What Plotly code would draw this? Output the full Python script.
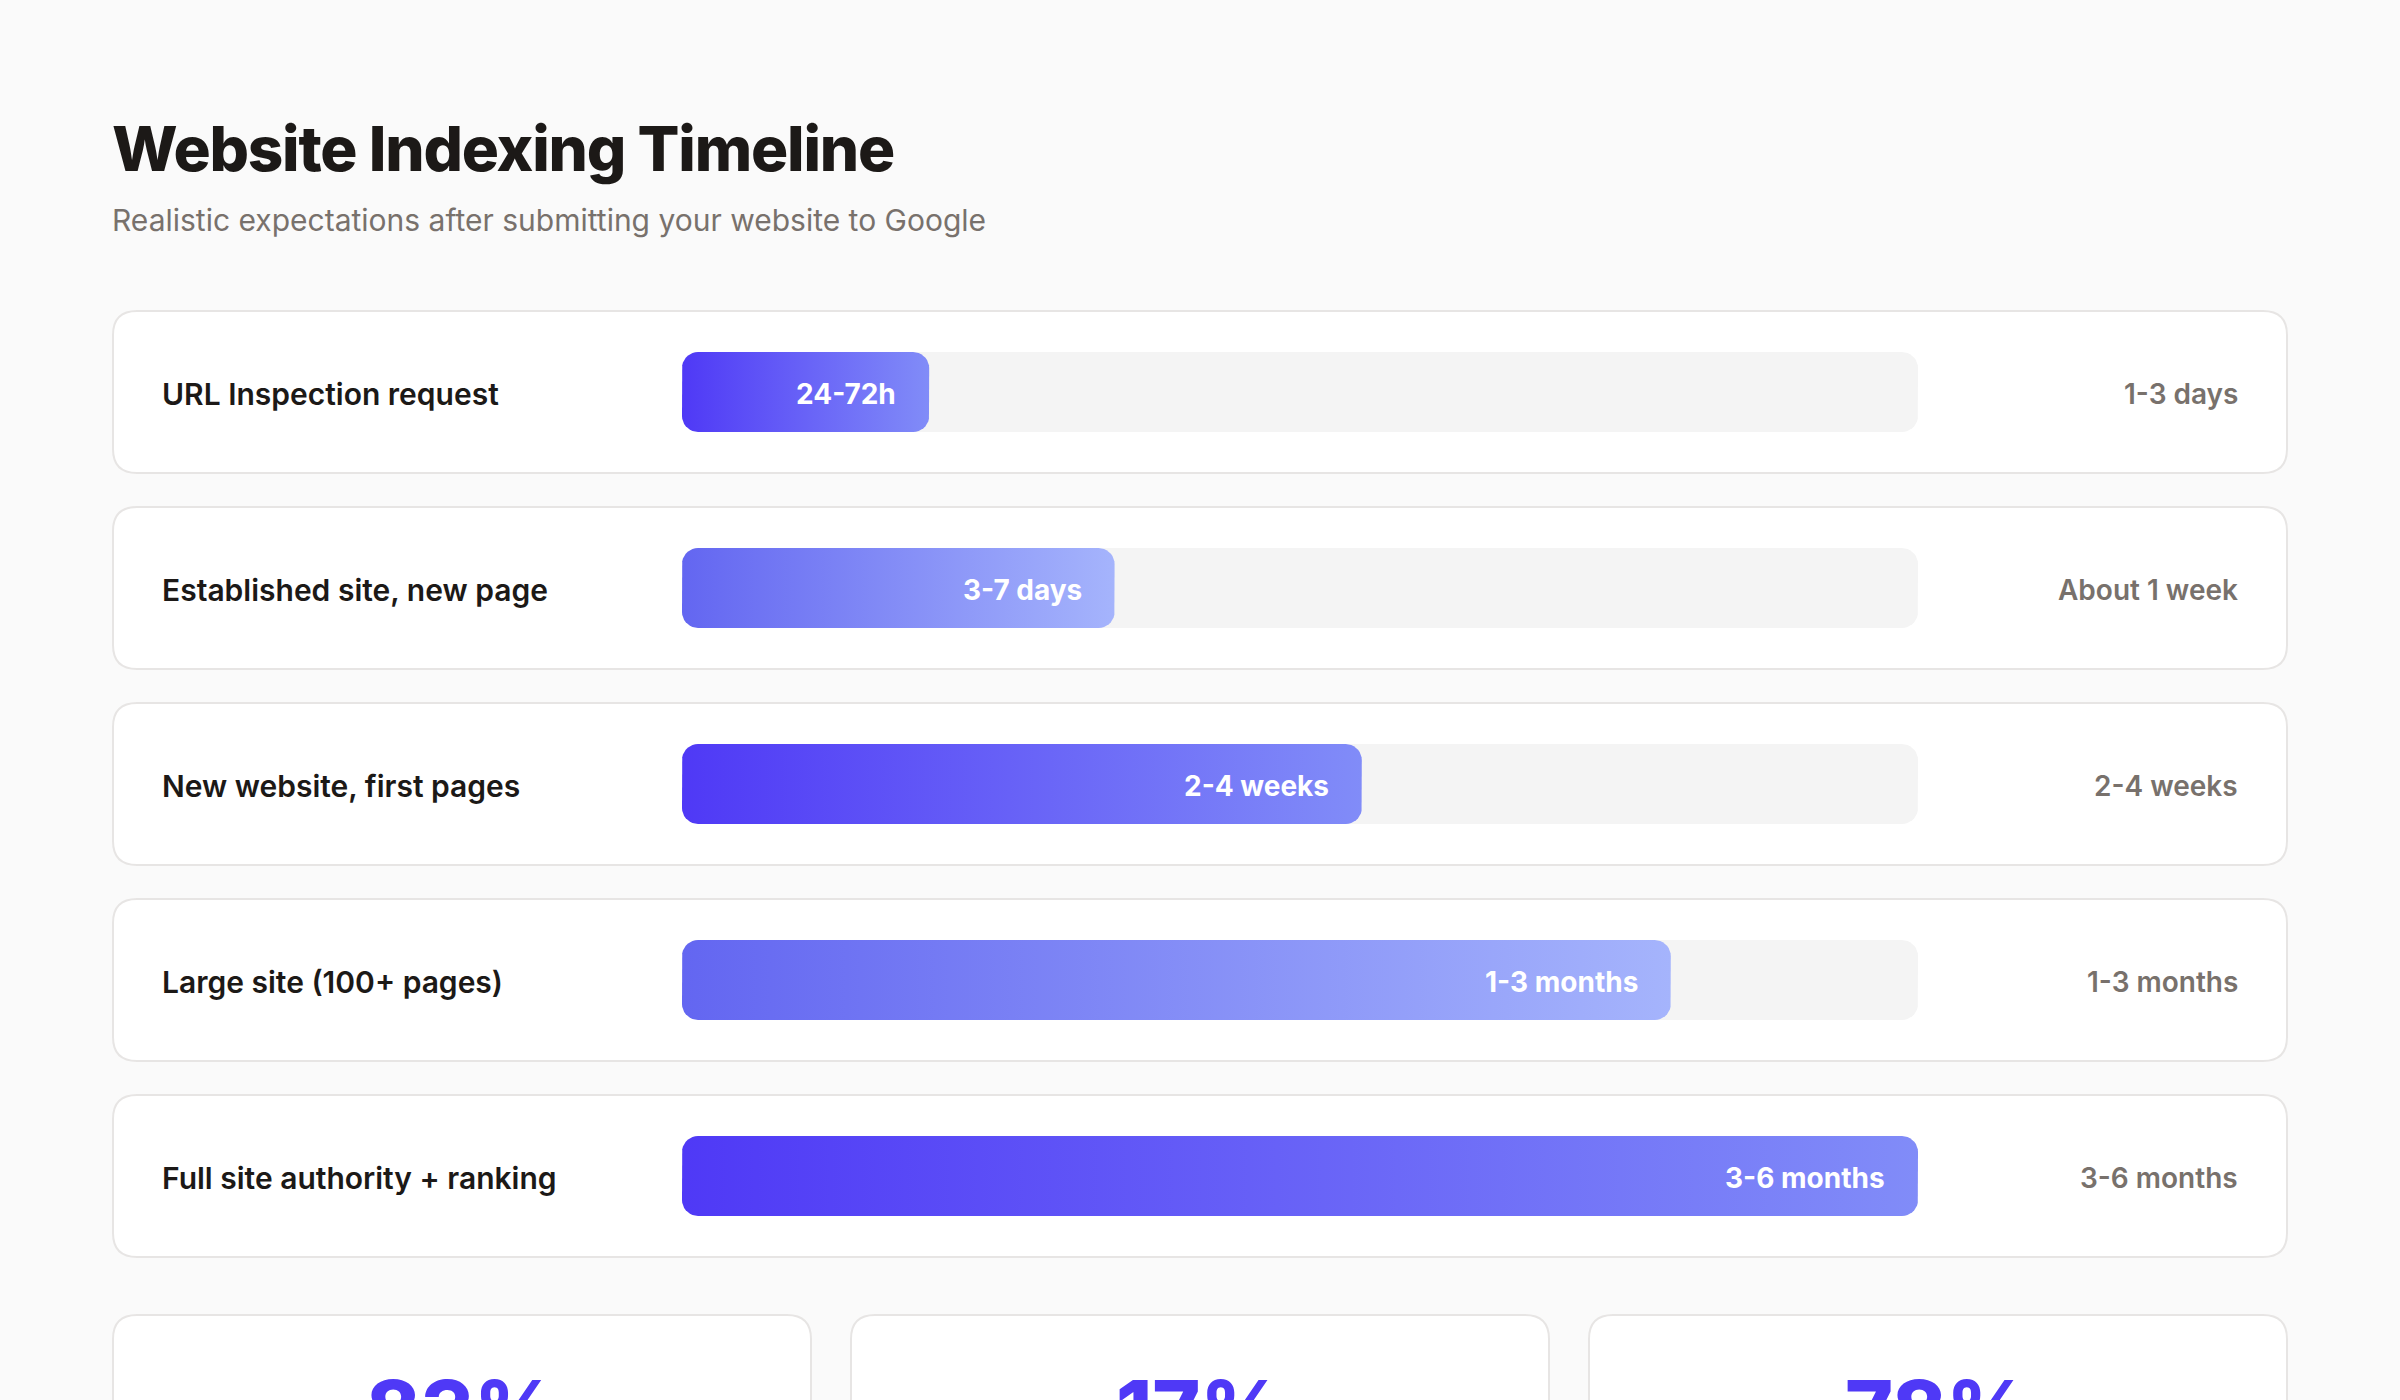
import numpy as np
import plotly.graph_objects as go

# ---------------- data ----------------
stages = ["URL Inspection request", "Established site, new page", "New website, first pages",
          "Large site (100+ pages)", "Full site authority + ranking"]
progress = [20, 35, 55, 80, 100]
bar_labels = ["24-72h", "3-7 days", "2-4 weeks", "1-3 months", "3-6 months"]
durations = ["1-3 days", "About 1 week", "2-4 weeks", "1-3 months", "3-6 months"]
stat_values = ["83%", "17%", "78%"]

# ---------------- layout constants (pixels) ----------------
W, H = 2400, 1400
TRACK_X0, TRACK_X1 = 682, 1918
ROW0_Y, ROW_PITCH = 392, 196
CARD_X0, CARD_X1 = 113, 2287
CARD_HALF = 81
CARD_R = 24
BAR_HALF = 40
BAR_R = 16
FONT = "Inter, Noto Sans, sans-serif"

x_per_px = 100.0 / (TRACK_X1 - TRACK_X0)
y_per_px = 1.0 / ROW_PITCH
y_range = [(H - ROW0_Y) / ROW_PITCH, -ROW0_Y / ROW_PITCH]

dark_grad = [[0, "#4f39f6"], [1, "#818cf8"]]
light_grad = [[0, "#6366f1"], [1, "#a5b4fc"]]


def rounded_rect(x0, x1, yc, half_h, rx, ry, n=10):
    """Polygon of a rounded rectangle in data units."""
    y0, y1 = yc - half_h, yc + half_h
    xs, ys = [], []
    corners = [
        (x1 - rx, y0 + ry, -np.pi / 2, 0),
        (x1 - rx, y1 - ry, 0, np.pi / 2),
        (x0 + rx, y1 - ry, np.pi / 2, np.pi),
        (x0 + rx, y0 + ry, np.pi, 1.5 * np.pi),
    ]
    for cx, cy, a0, a1 in corners:
        t = np.linspace(a0, a1, n)
        xs.extend(cx + rx * np.cos(t))
        ys.extend(cy + ry * np.sin(t))
    xs.append(xs[0])
    ys.append(ys[0])
    return xs, ys


def rr_path(x0, x1, y0, y1, rx, ry):
    return (f"M {x0+rx},{y0} L {x1-rx},{y0} Q {x1},{y0} {x1},{y0+ry} "
            f"L {x1},{y1-ry} Q {x1},{y1} {x1-rx},{y1} L {x0+rx},{y1} "
            f"Q {x0},{y1} {x0},{y1-ry} L {x0},{y0+ry} Q {x0},{y0} {x0+rx},{y0} Z")


fig = go.Figure()
shapes = []
annotations = []

rx_bar = BAR_R * x_per_px
ry_bar = BAR_R * y_per_px
half_bar = BAR_HALF * y_per_px

for i, (name, val, blab, dur) in enumerate(zip(stages, progress, bar_labels, durations)):
    # card background
    shapes.append(dict(
        type="path", xref="paper", yref="y", layer="below",
        path=rr_path(CARD_X0 / W, CARD_X1 / W, i - CARD_HALF * y_per_px, i + CARD_HALF * y_per_px,
                     CARD_R / W, CARD_R * y_per_px),
        fillcolor="#ffffff", line=dict(color="#e7e5e4", width=2)))
    # track
    tx, ty = rounded_rect(0, 100, i, half_bar, rx_bar, ry_bar)
    fig.add_trace(go.Scatter(x=tx, y=ty, mode="lines", fill="toself", fillcolor="#f4f4f4",
                             line=dict(width=0), hoverinfo="skip", showlegend=False))
    # bar
    bx, by = rounded_rect(0, val, i, half_bar, rx_bar, ry_bar)
    fig.add_trace(go.Scatter(
        x=bx, y=by, mode="lines", fill="toself", line=dict(width=0),
        fillgradient=dict(type="horizontal", colorscale=dark_grad if i % 2 == 0 else light_grad,
                          start=0, stop=val),
        hoverinfo="skip", showlegend=False))
    # bar label
    annotations.append(dict(x=val, y=i, xref="x", yref="y", text=f"<b>{blab}</b>",
                            xanchor="right", yanchor="middle", xshift=-31, yshift=-2,
                            showarrow=False,
                            font=dict(family=FONT, size=28, color="#ffffff", weight=700)))
    # stage name
    annotations.append(dict(x=160 / W, y=i, xref="paper", yref="y", text=name,
                            xanchor="left", yanchor="middle", yshift=-2, showarrow=False,
                            font=dict(family=FONT, size=30, color="#1c1917", weight=600)))
    # duration
    annotations.append(dict(x=2240 / W, y=i, xref="paper", yref="y", text=dur,
                            xanchor="right", yanchor="middle", yshift=-2, showarrow=False,
                            font=dict(family=FONT, size=28, color="#78716c", weight=600)))

# bottom stat cards
stat_x = [(113, 811), (851, 1549), (1589, 2287)]
for (sx0, sx1), sv in zip(stat_x, stat_values):
    shapes.append(dict(
        type="path", xref="paper", yref="paper", layer="below",
        path=rr_path(sx0 / W, sx1 / W, 1 - 1315 / H, 1 - 1700 / H, CARD_R / W, -CARD_R / H),
        fillcolor="#ffffff", line=dict(color="#e7e5e4", width=2)))
    annotations.append(dict(x=(sx0 + sx1) / 2 / W, y=1 - 1410 / H, xref="paper", yref="paper",
                            text=sv, xanchor="center", yanchor="middle", showarrow=False,
                            font=dict(family=FONT, size=82, color="#4f39f6", weight=800)))

# title + subtitle
annotations.append(dict(x=110 / W, y=1 - 148 / H, xref="paper", yref="paper",
                        text='<span style="letter-spacing:-1.2px">Website Indexing Timeline</span>',
                        xanchor="left", yanchor="middle", showarrow=False,
                        font=dict(family=FONT, size=62, color="#1c1917", weight=800)))
annotations.append(dict(x=110 / W, y=1 - 220 / H, xref="paper", yref="paper",
                        text="Realistic expectations after submitting your website to Google",
                        xanchor="left", yanchor="middle", showarrow=False,
                        font=dict(family=FONT, size=30, color="#78716c", weight=400)))

fig.update_layout(
    width=W, height=H,
    margin=dict(l=0, r=0, t=0, b=0),
    paper_bgcolor="#fafafa", plot_bgcolor="rgba(0,0,0,0)",
    shapes=shapes, annotations=annotations,
    xaxis=dict(domain=[TRACK_X0 / W, TRACK_X1 / W], range=[0, 100], visible=False, fixedrange=True),
    yaxis=dict(domain=[0, 1], range=y_range, visible=False, fixedrange=True),
    showlegend=False,
)

fig.write_html("out.html", config={"displayModeBar": False},
               post_script="document.body.style.margin='0px';document.body.style.background='#fafafa';")
